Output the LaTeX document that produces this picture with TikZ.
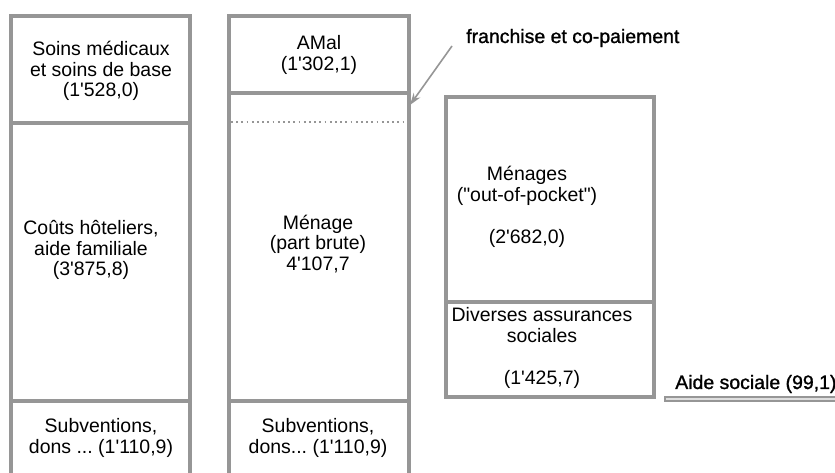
\documentclass[tikz,border=0pt]{standalone}
\usepackage{fontspec}
\setmainfont{Liberation Sans}
\newfontfamily\boldish[FakeBold=1.2]{Liberation Sans}
\usetikzlibrary{fit,arrows.meta}
\definecolor{linegray}{RGB}{150,150,150}
\newcommand{\sq}{\textquotesingle}
\newcommand{\dq}{\textquotedbl}
\frenchspacing
\tikzset{
  box/.style={draw=linegray, line width=2.3pt, inner sep=0pt, fill=none},
  txt/.style={align=center, inner sep=0pt, font=\fontsize{14.6}{15.6}\selectfont},
  note/.style={inner sep=0pt, font=\boldish\fontsize{14.6}{15.6}\selectfont},
}
\begin{document}
\begin{tikzpicture}[x=0.75pt,y=-0.75pt]
\useasboundingbox (0,0) rectangle (835,473);
\clip (0,0) rectangle (835,473);
% left column
\node[box, fit={(11,16)(190,123)}] (l1) {};
\node[box, fit={(11,123)(190,401)}] (l2) {};
\node[box, fit={(11,401)(190,520)}] (l3) {};
\node[txt] (t1) at (101,71) {Soins médicaux\\et soins de base\\(1\sq528,0)};
\node[txt] (t2) at (91,250) {Coûts hôteliers,\\aide familiale\\(3\sq875,8)};
\node[txt] (t3) at (101,438) {Subventions,\\dons ... (1\sq110,9)};
% middle column
\node[box, fit={(229,16)(409,93)}] (m1) {};
\node[box, fit={(229,93)(409,401)}] (m2) {};
\node[box, fit={(229,401)(409,520)}] (m3) {};
\coordinate (d1) at (231,122);
\coordinate (d2) at (407,122);
\draw[linegray, line width=1.3pt, dash pattern=on 1.3pt off 2.6pt] (d1) -- (d2);
\node[txt] (t4) at (319,55) {AMal\\(1\sq302,1)};
\node[txt] (t5) at (318,244) {Ménage\\(part brute)\\4\sq107,7};
\node[txt] (t6) at (318,438) {Subventions,\\dons... (1\sq110,9)};
% right box
\node[box, fit={(446,97)(654,302)}] (r1) {};
\node[box, fit={(446,302)(654,397)}] (r2) {};
\node[txt] (t7) at (527,207) {Ménages\\(\dq out-of-pocket\dq)\\\strut\\(2\sq682,0)};
\node[txt] (t8) at (542,348) {Diverses assurances\\sociales\\\strut\\(1\sq425,7)};
% aide sociale
\node[draw=linegray, line width=1pt, fill=gray!25, inner sep=0pt, fit={(665,397)(845,401)}] (as) {};
\node[note, anchor=base west] (t9) at (675,389) {Aide sociale (99,1)};
% franchise note
\node[note, anchor=base west] (t10) at (466,43) {franchise et co-paiement};
\coordinate (a1) at (452,46);
\coordinate (a2) at (410,105);
\draw[linegray, line width=1.2pt, -{Stealth[length=9pt,width=6pt]}] (a1) -- (a2);
\end{tikzpicture}
\end{document}
